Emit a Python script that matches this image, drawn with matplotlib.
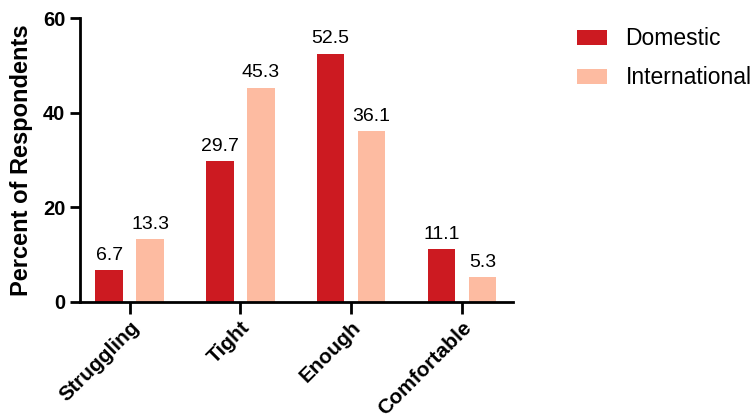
import matplotlib
matplotlib.use("Agg")
import matplotlib.pyplot as plt
import numpy as np

plt.rcParams['font.family'] = ['Liberation Sans', 'DejaVu Sans']

categories = ["Struggling", "Tight", "Enough", "Comfortable"]
domestic = [6.7, 29.7, 52.5, 11.1]
international = [13.3, 45.3, 36.1, 5.3]
series_names = ["Domestic", "International"]
colors = ["#CC1A21", "#FDBBA1"]

fig = plt.figure(figsize=(7.52, 4.2), dpi=100)
ax = fig.add_axes([0.106, 0.281, 0.576, 0.676])

x = np.arange(len(categories))
width = 0.25
offset = 0.185

bars_d = ax.bar(x - offset, domestic, width, color=colors[0], label=series_names[0])
bars_i = ax.bar(x + offset, international, width, color=colors[1], label=series_names[1])

for bars, vals in ((bars_d, domestic), (bars_i, international)):
    for b, v in zip(bars, vals):
        ax.text(b.get_x() + b.get_width() / 2, v + 1.3, f"{v:.1f}",
                ha="center", va="bottom", fontsize=14)

ax.set_xlim(-0.45, 3.46)
ax.set_ylim(0, 60)
ax.set_yticks([0, 20, 40, 60])
ax.set_xticks(x)
ax.set_xticklabels(categories, rotation=45, ha="right", rotation_mode="anchor",
                   fontsize=15, fontweight="bold")
for lbl in ax.get_yticklabels():
    lbl.set_fontweight("bold")
    lbl.set_fontsize(14.5)

ax.set_ylabel("Percent of Respondents", fontsize=17, fontweight="bold", labelpad=7)

for side in ("top", "right"):
    ax.spines[side].set_visible(False)
for side in ("left", "bottom"):
    ax.spines[side].set_linewidth(2)
ax.tick_params(axis="y", width=2, length=7.5, pad=3)
ax.tick_params(axis="x", width=2, length=8.5, pad=3)

ax.legend(loc="upper left", bbox_to_anchor=(1.127, 1.0), frameon=False,
          fontsize=16.5, handlelength=1.32, handleheight=0.62, labelspacing=0.71,
          handletextpad=0.8, borderaxespad=0.0)

fig.savefig("out.png", dpi=100)
